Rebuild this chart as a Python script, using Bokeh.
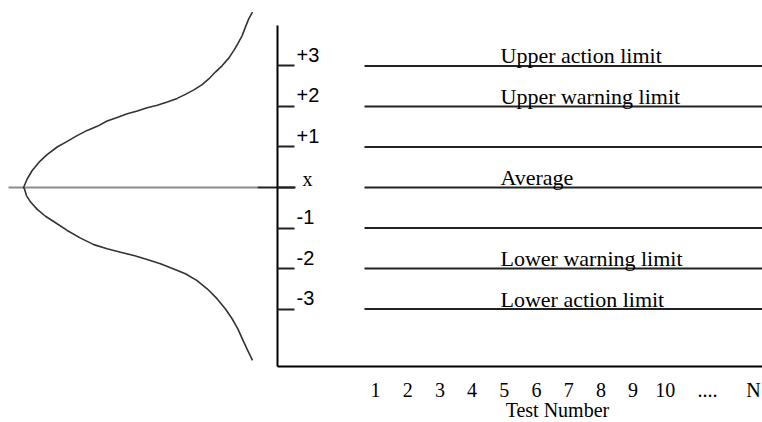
from bokeh.plotting import figure
from bokeh.models import Range1d, LinearAxis, FixedTicker, ColumnDataSource, Label
from bokeh.core.properties import value
from bokeh.embed import file_html
from bokeh.resources import INLINE

# ---- data ----
sigma_levels = [3, 2, 1, 0, -1, -2, -3]
sigma_labels = ["+3", "+2", "+1", "x", "-1", "-2", "-3"]
limit_names = ["Upper action limit", "Upper warning limit", "", "Average", "",
               "Lower warning limit", "Lower action limit"]

test_ticks = [1, 2, 3, 4, 5, 6, 7, 8, 9, 10, 11.31, 12.74]
test_labels = ["1", "2", "3", "4", "5", "6", "7", "8", "9", "10", "....", "N"]
x_title = "Test Number"

# sideways normal curve: sigma position vs relative frequency (fraction of peak)
curve_z = [4.33, 4.17, 3.96, 3.75, 3.55, 3.38, 3.20, 3.01, 2.85, 2.68, 2.54, 2.41,
           2.30, 2.20, 2.11, 2.03, 1.97, 1.89, 1.82, 1.73, 1.64, 1.51, 1.41, 1.28,
           1.14, 1.00, 0.81, 0.62, 0.42, 0.21, 0.05, 0.0,
           -0.03, -0.20, -0.36, -0.54, -0.71, -0.87, -1.06, -1.25, -1.41, -1.51,
           -1.60, -1.68, -1.78, -1.88, -2.01, -2.13, -2.30, -2.50, -2.75, -3.00,
           -3.24, -3.49, -3.78, -4.02, -4.27]
curve_d = [0.0, 0.016, 0.031, 0.045, 0.064, 0.082, 0.103, 0.132, 0.162, 0.191, 0.220,
           0.256, 0.293, 0.329, 0.372, 0.416, 0.460, 0.503, 0.547, 0.591, 0.635, 0.678,
           0.722, 0.766, 0.809, 0.853, 0.897, 0.933, 0.962, 0.984, 0.996, 1.0,
           0.996, 0.987, 0.969, 0.940, 0.904, 0.860, 0.809, 0.751, 0.693, 0.635,
           0.576, 0.518, 0.460, 0.402, 0.344, 0.293, 0.242, 0.198, 0.154, 0.118,
           0.089, 0.064, 0.041, 0.021, 0.0]

# ---- layout constants ----
X_LEFT, X_RIGHT = -10.646, 13.019
Y_LOW, Y_HIGH = -5.802, 4.617
AXIS_X = -2.043          # where the vertical axis stands
AXIS_Y = -4.42           # where the horizontal axis lies
AXIS_TOP = 4.0
LINE_START = 0.658       # where the control lines begin
LABEL_X = 4.882          # left edge of the limit names
TITLE_X, TITLE_Y = 6.65, -5.50

p = figure(width=762, height=422,
           x_range=Range1d(X_LEFT, X_RIGHT), y_range=Range1d(Y_LOW, Y_HIGH),
           x_axis_type=None, y_axis_type=None,
           output_backend="svg", toolbar_location=None,
           min_border_left=0, min_border_right=0, min_border_top=0, min_border_bottom=0)
p.outline_line_color = None
p.background_fill_color = "white"
p.border_fill_color = "white"
p.extra_x_ranges = {"dens": Range1d(1.1004, -2.227)}

# bottom axis: test number (fixed inside the frame)
xa = LinearAxis(ticker=FixedTicker(ticks=test_ticks),
                major_label_overrides={t: l for t, l in zip(test_ticks, test_labels)},
                bounds=(AXIS_X, X_RIGHT), fixed_location=AXIS_Y)
xa.axis_line_color = "black"
xa.axis_line_width = 2
xa.major_tick_line_color = None
xa.minor_tick_line_color = None
xa.major_tick_out = 0
xa.major_tick_in = 0
xa.major_label_standoff = 12
xa.major_label_text_font = "Liberation Serif"
xa.major_label_text_font_size = "20px"
xa.major_label_text_color = "black"
p.add_layout(xa, "below")

# vertical axis at a fixed location with ticks pointing right
ya = LinearAxis(ticker=FixedTicker(ticks=sigma_levels), fixed_location=AXIS_X,
                bounds=(AXIS_Y, AXIS_TOP))
ya.axis_line_color = "black"
ya.axis_line_width = 2
ya.major_tick_line_color = "#222222"
ya.major_tick_line_width = 2
ya.major_tick_out = 17
ya.major_tick_in = 0
ya.minor_tick_line_color = None
ya.major_label_text_color = None
ya.major_label_text_font_size = "1px"
p.add_layout(ya, "right")

# control lines
p.segment(x0=[LINE_START] * len(sigma_levels), x1=[X_RIGHT] * len(sigma_levels),
          y0=sigma_levels, y1=sigma_levels, line_color="#222222", line_width=2)

# limit names just above the lines
names = ColumnDataSource(dict(
    x=[LABEL_X] * len(limit_names), y=sigma_levels, text=limit_names))
p.text(x="x", y="y", text="text", source=names,
       text_font=value("Liberation Serif"), text_font_size="22px",
       text_color="black", text_align="left", text_baseline="middle",
       y_offset=-10)

# sigma labels beside the ticks
sans_idx = [i for i, s in enumerate(sigma_labels) if s != "x"]
serif_idx = [i for i, s in enumerate(sigma_labels) if s == "x"]
sans = ColumnDataSource(dict(x=[AXIS_X] * len(sans_idx),
                             y=[sigma_levels[i] for i in sans_idx],
                             text=[sigma_labels[i] for i in sans_idx]))
p.text(x="x", y="y", text="text", source=sans,
       text_font=value("Liberation Sans"), text_font_size="20px",
       text_color="black", text_align="left", text_baseline="middle",
       x_offset=19, y_offset=-11)
serif = ColumnDataSource(dict(x=[AXIS_X] * len(serif_idx),
                              y=[sigma_levels[i] for i in serif_idx],
                              text=[sigma_labels[i] for i in serif_idx]))
p.text(x="x", y="y", text="text", source=serif,
       text_font=value("Liberation Serif"), text_font_size="20px",
       text_color="black", text_align="center", text_baseline="middle",
       x_offset=30, y_offset=-9)

# baseline through the mean on the left side
p.segment(x0=[1.0655], x1=[-0.022], y0=[0], y1=[0], x_range_name="dens",
          line_color="#8c8c8c", line_width=2)
p.segment(x0=[-0.022], x1=[-0.188], y0=[0], y1=[0], x_range_name="dens",
          line_color="#222222", line_width=2)

# the sideways normal curve
p.line(x=curve_d, y=curve_z, x_range_name="dens", line_color="#333333",
       line_width=1.6, line_join="round")

# axis title
p.add_layout(Label(x=TITLE_X, y=TITLE_Y, text=x_title, text_align="center",
                   text_baseline="middle", text_font="Liberation Serif",
                   text_font_size="20px", text_color="black"))

open("out.html", "w").write(file_html(p, INLINE))
